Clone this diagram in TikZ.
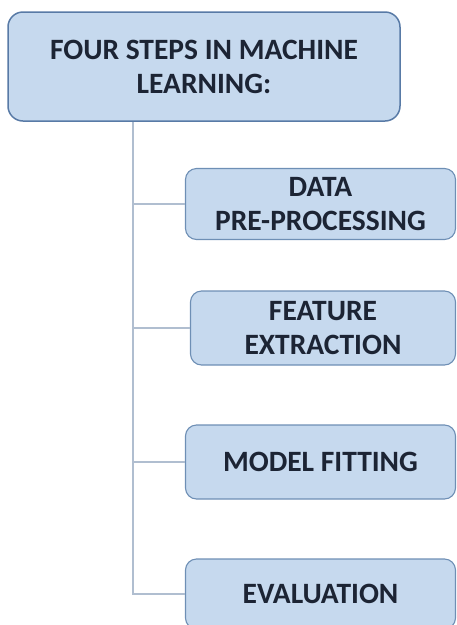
\documentclass[tikz,border=0pt]{standalone}
\usepackage{fontspec}
\setmainfont{Carlito}
\definecolor{boxfill}{RGB}{198,217,238}
\definecolor{boxedge}{RGB}{110,143,181}
\definecolor{topedge}{RGB}{88,122,166}
\definecolor{conn}{RGB}{176,190,208}
\definecolor{txt}{RGB}{28,36,52}
\tikzset{
  stepbox/.style={draw=boxedge, line width=1.1pt, fill=boxfill, rounded corners=11pt,
    text=txt, font=\fontsize{29.5}{34}\selectfont\bfseries, align=center, inner sep=0pt},
  titlebox/.style={stepbox, draw=topedge, line width=1.5pt, rounded corners=15pt},
  connline/.style={draw=conn, line width=1.4pt}
}
\begin{document}
\begin{tikzpicture}[x=1pt,y=-1pt]
\useasboundingbox (0,0) rectangle (457,625);
\clip (0,0) rectangle (457,625);
\node[titlebox, minimum width=392pt, minimum height=109pt] (top) at (204,66.5) {FOUR STEPS IN MACHINE\\LEARNING:};
\node[stepbox, minimum width=270pt, minimum height=71pt] (b1) at (320.5,204) {DATA\\PRE-PROCESSING};
\node[stepbox, minimum width=265pt, minimum height=74pt] (b2) at (323,328) {FEATURE\\EXTRACTION};
\node[stepbox, minimum width=270pt, minimum height=74pt] (b3) at (320.5,462) {MODEL FITTING};
\node[stepbox, minimum width=270pt, minimum height=70pt] (b4) at (320.5,594) {EVALUATION};
\coordinate (trunk) at (133,122);
\draw[connline] (top.south -| trunk) |- (b4.west);
\draw[connline] (trunk |- b1.west) -- (b1.west);
\draw[connline] (trunk |- b2.west) -- (b2.west);
\draw[connline] (trunk |- b3.west) -- (b3.west);
\end{tikzpicture}
\end{document}
